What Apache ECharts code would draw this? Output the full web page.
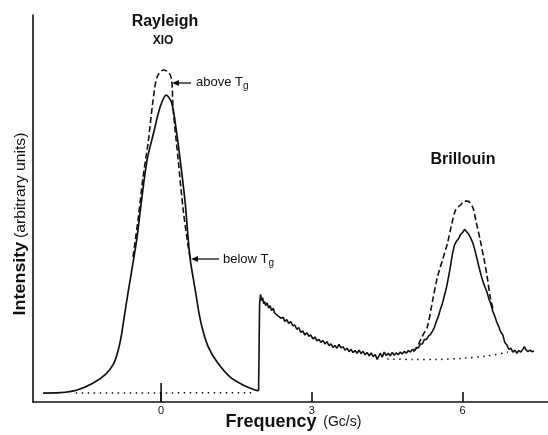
<!DOCTYPE html>
<html>
<head>
<meta charset="utf-8">
<script src="https://cdn.jsdelivr.net/npm/echarts@6.0.0/dist/echarts.min.js"></script>
<style>
  html, body { margin: 0; padding: 0; background: #fff; }
  #chart { width: 548px; height: 435px; }
</style>
</head>
<body>
<div id="chart"></div>
<script>
// frequency (Gc/s) vs intensity
const xTicks = [0, 3, 6];
const xTickLabels = ['0', '3', '6'];

// below Tg, Rayleigh peak (x10)
const rayleighBelow = [
  [-2.35, 2.3], [-2.01, 2.4], [-1.67, 3.1], [-1.35, 4.9], [-1.1, 7.2], [-0.95, 9.8],
  [-0.87, 12.6], [-0.8, 16.5], [-0.74, 21.5], [-0.65, 28.9], [-0.55, 36.7], [-0.48, 42.5], [-0.4, 51],
  [-0.28, 62.5], [-0.15, 69.5], [-0.02, 76.2], [0.10, 79.3], [0.21, 77.3], [0.31, 69.5],
  [0.38, 62.5], [0.48, 51.4], [0.53, 43.5], [0.58, 36.7], [0.68, 28.9], [0.76, 22.5],
  [0.84, 18.0], [0.94, 14.2], [1.11, 10.4], [1.37, 6.5], [1.63, 4.4], [1.87, 3.1], [1.94, 2.9]
];

// below Tg, Brillouin part (noisy trace)
const brillouinBelow = [
  [1.94, 2.9], [1.96, 25.5], [1.98, 27.8], [2.00, 26.2], [2.02, 27.0], [2.04, 25.4], [2.06, 26.0],
  [2.08, 24.9], [2.11, 25.6], [2.14, 24.3], [2.17, 24.9], [2.20, 23.6], [2.23, 24.2], [2.26, 23.0],
  [2.29, 23.5], [2.32, 22.3], [2.35, 22.8], [2.39, 21.6], [2.43, 21.9], [2.46, 20.8], [2.50, 21.3],
  [2.54, 20.3], [2.58, 20.8], [2.62, 19.7], [2.66, 19.9], [2.70, 18.8], [2.74, 19.2], [2.78, 18.0],
  [2.82, 18.4], [2.86, 17.3], [2.90, 17.9], [2.94, 17.0], [2.98, 17.3], [3.02, 16.3], [3.06, 16.8],
  [3.10, 15.8], [3.14, 16.2], [3.18, 15.4], [3.22, 15.9], [3.26, 15.0], [3.30, 15.6], [3.34, 14.6],
  [3.38, 15.0], [3.42, 14.1], [3.46, 14.6], [3.50, 13.9], [3.54, 14.9], [3.58, 14.0], [3.62, 14.3],
  [3.66, 13.4], [3.70, 13.9], [3.74, 13.0], [3.78, 13.6], [3.82, 12.8], [3.86, 13.3], [3.90, 12.6],
  [3.94, 13.4], [3.98, 12.5], [4.02, 13.1], [4.06, 12.2], [4.10, 12.8], [4.14, 11.9], [4.18, 12.7],
  [4.22, 11.7], [4.26, 12.3], [4.30, 11.0], [4.33, 11.8], [4.36, 12.6], [4.40, 11.6], [4.44, 12.9],
  [4.48, 12.0], [4.52, 12.6], [4.56, 11.9], [4.60, 12.8], [4.64, 12.1], [4.68, 12.7], [4.72, 12.2],
  [4.76, 12.9], [4.80, 12.4], [4.84, 13.1], [4.88, 12.6], [4.92, 13.3], [4.96, 12.9], [5.00, 13.6],
  [5.04, 13.3], [5.08, 14.1], [5.12, 14.0], [5.16, 15.0], [5.20, 15.0], [5.24, 16.2], [5.28, 16.1],
  [5.32, 17.0], [5.36, 17.4], [5.40, 18.3], [5.44, 19.3], [5.48, 20.9], [5.52, 22.2], [5.56, 24.0],
  [5.60, 25.6], [5.64, 27.6], [5.68, 29.6], [5.72, 32.3], [5.76, 35.2], [5.80, 38.4], [5.84, 40.6],
  [5.88, 41.6], [5.92, 42.2], [5.96, 43.3], [6.00, 43.8], [6.04, 44.6], [6.08, 44.0], [6.12, 43.4],
  [6.16, 42.4], [6.20, 41.2], [6.24, 39.5], [6.28, 37.4], [6.32, 35.2], [6.36, 33.2], [6.40, 31.3],
  [6.44, 29.9], [6.48, 28.6], [6.52, 26.8], [6.56, 25.4], [6.60, 23.5], [6.64, 22.2], [6.68, 20.6],
  [6.72, 19.5], [6.76, 18.0], [6.80, 17.4], [6.84, 15.4], [6.88, 14.8], [6.92, 13.6], [6.96, 13.9],
  [7.00, 12.9], [7.04, 13.4], [7.08, 12.6], [7.12, 13.3], [7.16, 12.9], [7.20, 13.6], [7.23, 14.3],
  [7.26, 13.5], [7.30, 13.0], [7.34, 13.4], [7.38, 13.0], [7.42, 13.2]
];

// above Tg (dashed), only where it leaves the solid trace
const rayleighAbove = [
  [-0.56, 37.5], [-0.46, 47.0], [-0.36, 58.1], [-0.26, 66.9], [-0.16, 78.0], [-0.08, 84.0],
  [0.05, 85.8], [0.16, 85.0], [0.21, 83.2], [0.24, 75.5], [0.34, 62.5], [0.44, 49.6],
  [0.54, 40.1], [0.58, 37.2]
];
const brillouinAbove = [
  [5.02, 13.0], [5.1, 14.2], [5.16, 16.0], [5.24, 18], [5.3, 19.4], [5.4, 26], [5.5, 32.3],
  [5.6, 36.7], [5.7, 41.1], [5.78, 45.7], [5.86, 49.6], [5.96, 50.9], [6.04, 51.9], [6.1, 51.9],
  [6.2, 50.4], [6.27, 46.5], [6.35, 41.9], [6.43, 36.7], [6.49, 32.3], [6.55, 27.1], [6.61, 23.8]
];

// dotted backgrounds
const rayleighBase = [[-1.7, 2.3], [1.8, 2.4]];
const brillouinBase = [[4.5, 11.1], [5.0, 11.0], [5.5, 11.0], [6.0, 11.3], [6.5, 11.9], [6.9, 12.9]];

// the longer mark at zero
const zeroMark = [[0, 0], [0, 4.9]];

const ink = '#111';
const font = 'Liberation Sans, Arial, sans-serif';

function lineSeries(data, type, width, smooth) {
  return {
    type: 'line',
    data: data,
    showSymbol: false,
    smooth: smooth || false,
    silent: true,
    lineStyle: { color: ink, width: width, type: type }
  };
}

let chart = echarts.init(document.getElementById('chart'));
chart.setOption({
  animation: false,
  grid: { left: 33, right: 0, top: 15, bottom: 33, outerBoundsMode: 'none' },
  xAxis: {
    type: 'value',
    min: -2.55,
    max: 7.7,
    axisLine: { lineStyle: { color: ink, width: 1.6 } },
    axisTick: { inside: true, length: 10, customValues: xTicks, lineStyle: { color: ink, width: 1.6 } },
    axisLabel: {
      customValues: xTicks,
      formatter: (v) => xTickLabels[xTicks.indexOf(v)],
      color: ink, fontFamily: font, fontSize: 11, margin: 3
    },
    splitLine: { show: false },
    name: '{a|Frequency}  {b|(Gc/s)}',
    nameLocation: 'middle',
    nameGap: 11,
    nameMoveOverlap: false,
    nameTextStyle: {
      padding: [0, 0, 0, 6],
      rich: {
        a: { fontFamily: font, fontSize: 18, fontWeight: 'bold', color: ink },
        b: { fontFamily: font, fontSize: 14, color: ink }
      }
    }
  },
  yAxis: {
    type: 'value',
    min: 0,
    max: 100,
    axisLine: { show: true, onZero: false, lineStyle: { color: ink, width: 1.6 } },
    axisTick: { show: false },
    axisLabel: { show: false },
    splitLine: { show: false }
  },
  series: [
    lineSeries(rayleighBelow, 'solid', 1.7, 0.3),
    lineSeries(brillouinBelow, 'solid', 1.6),
    lineSeries(rayleighAbove, [6, 3], 1.6, 0.3),
    lineSeries(brillouinAbove, [6, 3], 1.6, 0.3),
    lineSeries(rayleighBase, [1.5, 4.5], 1.5),
    lineSeries(brillouinBase, [1.5, 4.5], 1.5, 0.3),
    lineSeries(zeroMark, 'solid', 1.6)
  ],
  graphic: [
    { type: 'text', x: 165, y: 22, style: { text: 'Rayleigh', font: 'bold 16px ' + font, fill: ink, align: 'center', verticalAlign: 'middle' } },
    { type: 'text', x: 163, y: 41, style: { text: 'XIO', font: 'bold 12px ' + font, fill: ink, align: 'center', verticalAlign: 'middle' } },
    { type: 'text', x: 463, y: 160, style: { text: 'Brillouin', font: 'bold 16px ' + font, fill: ink, align: 'center', verticalAlign: 'middle' } },
    // y axis name, rotated and a bit stretched like the typewriter lettering
    {
      type: 'text', x: 21, y: 224, rotation: Math.PI / 2, scaleX: 1.12,
      style: {
        text: '{a|Intensity} {b|(arbitrary units)}',
        align: 'center', verticalAlign: 'middle',
        rich: {
          a: { fontFamily: font, fontSize: 16, fontWeight: 'bold', fill: ink },
          b: { fontFamily: font, fontSize: 14, fill: ink }
        }
      }
    },
    // above Tg arrow
    { type: 'line', shape: { x1: 177, y1: 83, x2: 191, y2: 83 }, style: { stroke: ink, lineWidth: 1.3 } },
    { type: 'polygon', shape: { points: [[172, 83], [179, 80], [179, 86]] }, style: { fill: ink } },
    {
      type: 'text', x: 196, y: 82,
      style: {
        text: '{a|above T}{s|g}', verticalAlign: 'middle',
        rich: { a: { fontFamily: font, fontSize: 13, fill: ink }, s: { fontFamily: font, fontSize: 10, fill: ink, padding: [8, 0, 0, 0] } }
      }
    },
    // below Tg arrow
    { type: 'line', shape: { x1: 196, y1: 259, x2: 219, y2: 259 }, style: { stroke: ink, lineWidth: 1.3 } },
    { type: 'polygon', shape: { points: [[191, 259], [198, 256], [198, 262]] }, style: { fill: ink } },
    {
      type: 'text', x: 223, y: 259,
      style: {
        text: '{a|below T}{s|g}', verticalAlign: 'middle',
        rich: { a: { fontFamily: font, fontSize: 13, fill: ink }, s: { fontFamily: font, fontSize: 10, fill: ink, padding: [8, 0, 0, 0] } }
      }
    }
  ]
});
</script>
</body>
</html>
